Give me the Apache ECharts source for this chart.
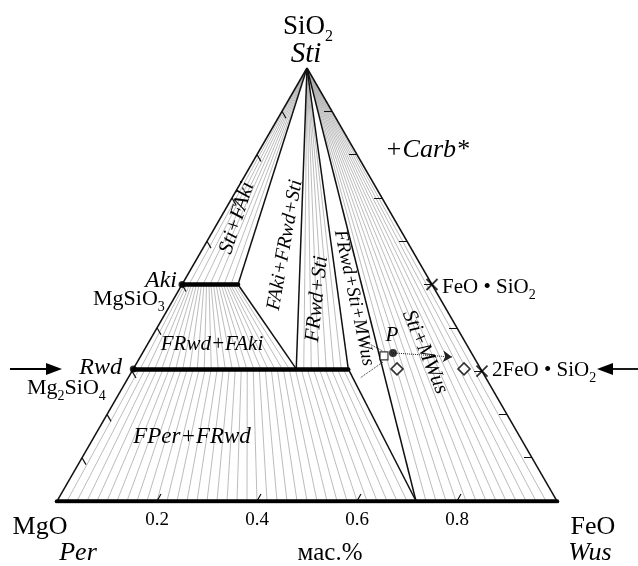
<!DOCTYPE html>
<html><head><meta charset="utf-8">
<script src="https://cdn.jsdelivr.net/npm/echarts@6/dist/echarts.min.js"></script>
<style>html,body{margin:0;padding:0;background:#fff}#c{width:638px;height:566px}</style>
</head><body><div id="c"></div>
<script>
// ---- Data: ternary compositions [f = FeO fraction, s = SiO2 fraction] ----
const tickLabels = ['0.2', '0.4', '0.6', '0.8'];
const bottomTicks = [0.2, 0.4, 0.6, 0.8];
const edgeTicks = [0.1, 0.2, 0.3, 0.4, 0.5, 0.6, 0.7, 0.8, 0.9];
const sti = [0, 1];
const akiS = 0.5, akiEndF = 0.112;
const rwdS = 0.305, rwdMidF = 0.326, rwdEndF = 0.43;
const wusF = 0.718;
const stiAkiTies = [0.014, 0.028, 0.042, 0.056, 0.070, 0.084, 0.098];
const stiRwdTies = [0.341, 0.356, 0.371, 0.386, 0.401, 0.416];
const stiWusTies = [0.738, 0.758, 0.778, 0.798, 0.818, 0.838, 0.858, 0.878, 0.898, 0.918, 0.938, 0.958, 0.978];
const akiRwdTiesAki = [0.005,0.010,0.015,0.019,0.024,0.029,0.034,0.039,0.044,0.049,0.054,0.058,0.063,0.068,0.073,0.078,0.083,0.088,0.093,0.097,0.102,0.107];
const akiRwdTiesRwd = [0.014,0.028,0.043,0.057,0.071,0.085,0.099,0.113,0.128,0.142,0.156,0.170,0.184,0.198,0.213,0.227,0.241,0.255,0.269,0.283,0.298,0.312];
const perRwdTiesRwd = [0.012,0.024,0.036,0.048,0.060,0.072,0.084,0.096,0.108,0.120,0.132,0.144,0.156,0.168,0.180,0.192,0.204,0.216,0.228,0.240,0.252,0.264,0.276,0.288,0.300,0.312,0.324,0.336,0.348,0.360,0.372,0.384,0.396,0.408,0.420];
const perRwdTiesPer = [0.020,0.040,0.060,0.080,0.100,0.120,0.140,0.160,0.180,0.200,0.220,0.240,0.260,0.280,0.300,0.320,0.340,0.360,0.380,0.400,0.420,0.440,0.460,0.480,0.500,0.520,0.540,0.560,0.580,0.600,0.620,0.640,0.660,0.680,0.700];
const fsPoints = [[0.5, 0.5], [0.7, 0.3]];          // FeO·SiO2, 2FeO·SiO2
const pointP = [0.501, 0.342];
const pointSq = [0.4865, 0.335];
const diamonds = [[0.5275, 0.305], [0.6615, 0.305]];
const arrowP = [[0.501, 0.342], [0.6237, 0.3326]];
const dottedA = [[0.424, 0.372], [0.479, 0.346]];
const dottedB = [[0.4915, 0.321], [0.464, 0.284]];

// ---- helpers ----
const H = Math.sqrt(3) / 2;
const toXY = (p) => [p[0] + p[1] / 2, p[1] * H];
const seg = (a, b) => ({ coords: [toXY(a), toXY(b)] });
const FONT = '"Liberation Serif","Times New Roman",serif';
const d = 0.016;

const hatch = []
  .concat(stiAkiTies.map(f => seg(sti, [f, akiS])))
  .concat(stiRwdTies.map(f => seg(sti, [f, rwdS])))
  .concat(stiWusTies.map(f => seg(sti, [f, 0])))
  .concat(akiRwdTiesAki.map((a, i) => seg([a, akiS], [akiRwdTiesRwd[i], rwdS])))
  .concat(perRwdTiesRwd.map((r, i) => seg([r, rwdS], [perRwdTiesPer[i], 0])));

const bounds = [
  seg([0, 0], sti), seg([1, 0], sti),
  seg([akiEndF, akiS], sti), seg([akiEndF, akiS], [rwdMidF, rwdS]),
  seg([rwdMidF, rwdS], sti), seg([rwdEndF, rwdS], sti),
  seg([rwdEndF, rwdS], [wusF, 0]), seg([wusF, 0], sti)
];
const bars = [seg([0, akiS], [akiEndF, akiS]), seg([0, rwdS], [rwdEndF, rwdS]), seg([0, 0], [1, 0])];
const ticks = []
  .concat(edgeTicks.map(s => seg([0, s], [d, s - d])))
  .concat(edgeTicks.map(s => seg([1 - s, s], [1 - s - d, s])))
  .concat(bottomTicks.map(f => seg([f, 0], [f, d])));

const mctx = document.createElement('canvas').getContext('2d');
function tw(t, size, it) { mctx.font = (it ? 'italic ' : '') + size + 'px ' + FONT; return mctx.measureText(t).width; }
function txt(x, y, t, size, opt) {
  opt = opt || {};
  return { type: 'text', x: x, y: y, rotation: opt.rot || 0, z: 100,
    style: { text: t, fontFamily: FONT, fontSize: size, fontStyle: opt.it ? 'italic' : 'normal',
      fill: '#000', align: opt.align || 'center', verticalAlign: 'middle' } };
}
function formula(x, y, parts, size, sub) {
  const out = []; let cx = x;
  parts.forEach(p => {
    const isSub = p[1];
    const sz = isSub ? sub : size;
    out.push(txt(cx, isSub ? y + size * 0.38 : y, p[0], sz, { align: 'left' }));
    cx += tw(p[0], sz, false);
  });
  return out;
}
const deg = Math.PI / 180;

const graphics = [].concat(
  formula(283, 27, [['SiO', 0], ['2', 1]], 27, 16),
  [txt(306, 54, 'Sti', 29, { it: 1 })],
  [txt(177, 281, 'Aki', 24, { it: 1, align: 'right' })],
  formula(93, 299, [['MgSiO', 0], ['3', 1]], 22, 14),
  [txt(122, 368, 'Rwd', 24, { it: 1, align: 'right' })],
  formula(27, 388, [['Mg', 0], ['2', 1], ['SiO', 0], ['4', 1]], 22, 14),
  formula(442, 287, [['FeO \u2022 SiO', 0], ['2', 1]], 21, 14),
  formula(492, 370, [['2FeO \u2022 SiO', 0], ['2', 1]], 21, 14),
  [
    txt(427, 150, '+Carb*', 26, { it: 1 }),
    txt(392, 335, 'P', 21, { it: 1 }),
    txt(40, 527, 'MgO', 26), txt(593, 527, 'FeO', 26),
    txt(78, 553, 'Per', 26, { it: 1 }), txt(330, 553, 'мас.%', 25), txt(590, 553, 'Wus', 26, { it: 1 }),
    txt(192, 437, 'FPer+FRwd', 23, { it: 1 }),
    txt(212, 344, 'FRwd+FAki', 21, { it: 1 }),
    txt(237, 218, 'Sti+FAki', 21, { it: 1, rot: 72 * deg }),
    txt(285, 245, 'FAki+FRwd+Sti', 20, { it: 1, rot: 80 * deg }),
    txt(317, 299, 'FRwd+Sti', 21, { it: 1, rot: 84 * deg }),
    txt(354, 298, 'FRwd+Sti+MWus', 19, { it: 1, rot: -78 * deg }),
    txt(425, 352, 'Sti+MWus', 21, { it: 1, rot: -67 * deg }),
    // side arrows
    { type: 'line', shape: { x1: 10, y1: 369, x2: 50, y2: 369 }, style: { stroke: '#000', lineWidth: 1.8 } },
    { type: 'polygon', shape: { points: [[62, 369], [46, 363], [46, 375]] }, style: { fill: '#000' } },
    { type: 'line', shape: { x1: 610, y1: 369, x2: 638, y2: 369 }, style: { stroke: '#000', lineWidth: 1.8 } },
    { type: 'polygon', shape: { points: [[597, 369], [613, 363], [613, 375]] }, style: { fill: '#000' } }
  ]
);

const chart = echarts.init(document.getElementById('c'), null, { renderer: 'canvas' });
chart.setOption({
  animation: false,
  backgroundColor: '#fff',
  grid: { left: 57, top: 68, width: 500, height: 433 },
  xAxis: {
    type: 'value', min: 0, max: 1, interval: 0.2,
    axisLine: { show: false }, axisTick: { show: false }, splitLine: { show: false },
    axisLabel: {
      color: '#000', fontFamily: FONT, fontSize: 19, margin: 10,
      formatter: (v, i) => (i >= 1 && i <= tickLabels.length) ? tickLabels[i - 1] : ''
    }
  },
  yAxis: { type: 'value', min: 0, max: H, show: false },
  series: [
    { type: 'lines', coordinateSystem: 'cartesian2d', silent: true, data: hatch,
      lineStyle: { color: '#ababab', width: 0.8, opacity: 1 } },
    { type: 'lines', coordinateSystem: 'cartesian2d', silent: true, data: bounds,
      lineStyle: { color: '#111', width: 1.5, opacity: 1 } },
    { type: 'lines', coordinateSystem: 'cartesian2d', silent: true, data: ticks,
      lineStyle: { color: '#111', width: 1.2, opacity: 1 } },
    { type: 'lines', coordinateSystem: 'cartesian2d', silent: true, data: bars,
      lineStyle: { color: '#000', width: 4.5, opacity: 1, cap: 'round' } },
    { type: 'lines', coordinateSystem: 'cartesian2d', silent: true,
      data: [{ coords: arrowP.map(toXY) }], symbol: ['none', 'arrow'], symbolSize: 9,
      lineStyle: { color: '#222', width: 1, type: 'dotted', opacity: 1 } },
    { type: 'lines', coordinateSystem: 'cartesian2d', silent: true,
      data: [{ coords: dottedA.map(toXY) }, { coords: dottedB.map(toXY) }],
      lineStyle: { color: '#222', width: 1, type: 'dotted', opacity: 1 } },
    { type: 'scatter', silent: true, symbol: 'circle', symbolSize: 7,
      data: [toXY([0, akiS]), toXY([0, rwdS])], itemStyle: { color: '#000' } },
    { type: 'scatter', silent: true, symbol: 'diamond', symbolSize: 12,
      data: diamonds.map(toXY), itemStyle: { color: '#fff', borderColor: '#000', borderWidth: 1.6 } },
    { type: 'scatter', silent: true, symbol: 'rect', symbolSize: 8,
      data: [toXY(pointSq)], itemStyle: { color: '#fff', borderColor: '#000', borderWidth: 1.2 } },
    { type: 'scatter', silent: true, symbol: 'circle', symbolSize: 8,
      data: [toXY(pointP)], itemStyle: { color: '#000' } },
    { type: 'scatter', silent: true, symbol: 'path://M0,0L10,10M10,0L0,10', symbolSize: 11,
      data: fsPoints.map(toXY), itemStyle: { color: 'none', borderColor: '#000', borderWidth: 1.8 } }
  ],
  graphic: graphics
});
</script></body></html>
